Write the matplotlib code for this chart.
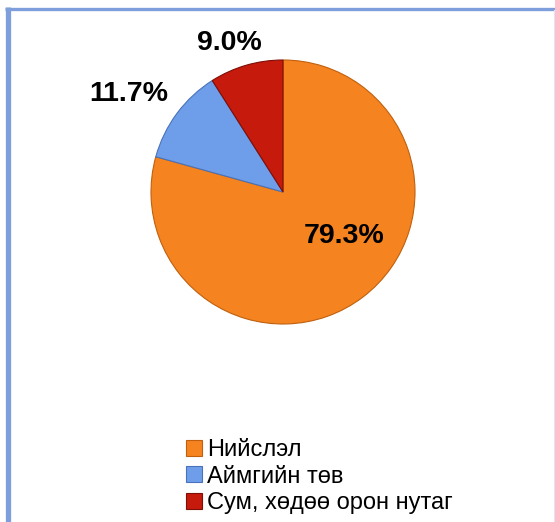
import matplotlib
matplotlib.use('Agg')
import matplotlib.pyplot as plt
from matplotlib.lines import Line2D

#==============================================================================
#DATA
#==============================================================================

categories = ['Нийслэл', 'Аймгийн төв', 'Сум, хөдөө орон нутаг']
shares = [79.3, 11.7, 9.0]
colors = ['#F5831F', '#6E9EEA', '#C51A0C']
edges = ['#C0600E', '#4A72B8', '#7E0E06']

#label positions (axes data units, pie radius = 1)
label_xy = [(0.46, -0.33), (-1.17, 0.74), (-0.41, 1.13)]

#==============================================================================
#PLOTTING
#==============================================================================

plt.rcParams['font.family'] = ['Liberation Sans', 'DejaVu Sans']

W, H = 555, 522
f = plt.figure(figsize=(W / 100, H / 100), dpi=100)

cx, cy, r = 283, 192, 132
ax = f.add_axes([(cx - r) / W, (H - cy - r) / H, 2 * r / W, 2 * r / H])
wedges, _ = ax.pie(shares, colors=colors, startangle=90, counterclock=False,
                   radius=1, wedgeprops=dict(linewidth=0.8))
for w, ec in zip(wedges, edges):
    w.set_edgecolor(ec)
ax.set_xlim(-1, 1)
ax.set_ylim(-1, 1)
ax.set_aspect('equal')
ax.axis('off')

for v, (x, y) in zip(shares, label_xy):
    ax.text(x, y, f'{v:.1f}%', ha='center', va='center', fontsize=20.5,
            fontweight='bold', color='black', clip_on=False)

#legend
handles = [Line2D([], [], marker='s', linestyle='none', markersize=11,
                  markerfacecolor=c, markeredgecolor=e, markeredgewidth=0.8)
           for c, e in zip(colors, edges)]
f.legend(handles, categories, loc='upper left', bbox_to_anchor=(184.5 / W, 1 - 439 / H),
         frameon=False, borderpad=0, borderaxespad=0, handlelength=0.8,
         handletextpad=0.14, labelspacing=0.2, fontsize=17)

#frame lines
f.add_artist(Line2D([8 / W, 8 / W], [0, 1 - 7 / H], color='#7F9FDC', lw=3.8,
                    transform=f.transFigure, solid_capstyle='butt'))
f.add_artist(Line2D([5 / W, 1], [1 - 8.5 / H, 1 - 8.5 / H], color='#7F9FDC', lw=2.4,
                    transform=f.transFigure, solid_capstyle='butt'))
f.add_artist(Line2D([553.5 / W, 553.5 / W], [0, 1 - 10 / H], color='#DCE6F4', lw=0.8,
                    transform=f.transFigure))

f.savefig('out.png', dpi=100)
